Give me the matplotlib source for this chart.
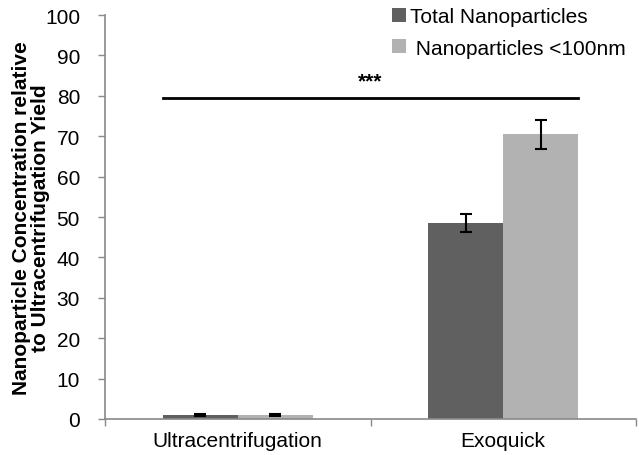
import matplotlib
matplotlib.use("Agg")
import matplotlib.pyplot as plt
import numpy as np
from matplotlib.patches import Patch

categories = ["Ultracentrifugation", "Exoquick"]
series_names = ["Total Nanoparticles", " Nanoparticles <100nm"]
total_vals = [1.0, 48.5]
total_err = [0.3, 2.2]
small_vals = [1.0, 70.5]
small_err = [0.3, 3.6]
sig_level = 79.5
sig_text = "***"
yticks = list(range(0, 101, 10))

plt.rcParams['font.family'] = ['Liberation Sans', 'DejaVu Sans']

fig = plt.figure(figsize=(6.39, 4.56), dpi=100)
ax = fig.add_axes([105/639, 1-420/456, (636-105)/639, (420-16)/456])

x = np.arange(len(categories))
w = 0.2825
dark = "#606060"
light = "#b2b2b2"
ekw = dict(ecolor="black", elinewidth=1.5, capthick=1.5)
ax.bar(x - w/2, total_vals, w, color=dark, yerr=total_err, capsize=4.3, error_kw=ekw, zorder=2)
ax.bar(x + w/2, small_vals, w, color=light, yerr=small_err, capsize=4.3, error_kw=ekw, zorder=2)

ax.set_xlim(-0.5, 1.5)
ax.set_ylim(0, 100)
ax.set_yticks(yticks)
ax.tick_params(axis='y', labelsize=15, length=5, width=1, color="#898989", pad=13, direction='out')

ax.set_xticks([-0.5, 0.5, 1.5])
ax.set_xticklabels([])
ax.tick_params(axis='x', which='major', length=5, width=1, color="#898989", direction='out')
ax.set_xticks(x, minor=True)
ax.set_xticklabels(categories, minor=True)
ax.tick_params(axis='x', which='minor', length=0, labelsize=15, pad=9)

for s in ["top", "right"]:
    ax.spines[s].set_visible(False)
for s in ["left", "bottom"]:
    ax.spines[s].set_color("#898989")
    ax.spines[s].set_linewidth(1.2)

ax.set_ylabel("Nanoparticle Concentration relative\nto Ultracentrifugation Yield",
              fontsize=15, fontweight='bold', labelpad=-3.5, linespacing=1.0)

# significance line
x0 = x[0] - w
x1 = x[1] + w
ax.plot([x0, x1], [sig_level, sig_level], color="black", lw=2, zorder=3)
ax.text((x0 + x1)/2, sig_level + 1.8, sig_text, ha='center', va='bottom', fontsize=15, fontweight='bold')

handles = [Patch(facecolor=dark, edgecolor='none'), Patch(facecolor=light, edgecolor='none')]
ax.legend(handles, series_names, loc='upper right', bbox_to_anchor=(1.0, 1.045), frameon=False,
          fontsize=15, handlelength=0.65, handleheight=0.65, handletextpad=0.2, labelspacing=0.6,
          borderaxespad=0.1)

fig.savefig("out.png", dpi=100)
